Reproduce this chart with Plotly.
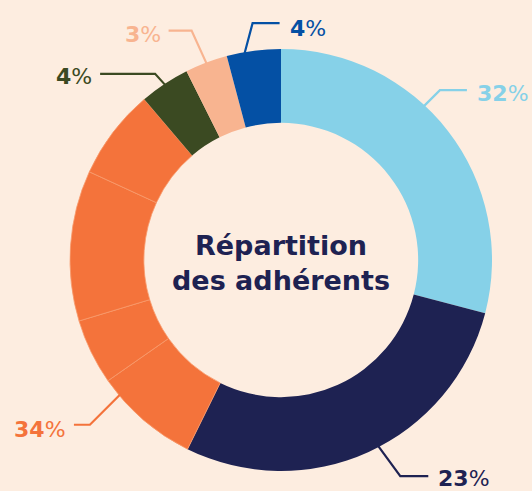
import math
import plotly.graph_objects as go

# ---- data (clockwise from 12 o'clock) ----
slice_groups = ["Bleu clair", "Marine", "Orange", "Orange", "Orange", "Orange", "Olive", "Pêche", "Bleu"]
slice_values = [29.06, 28.25, 8.0, 5.03, 11.53, 6.92, 3.83, 3.25, 4.14]
slice_colors = ["#86D1E8", "#1E2252", "#F4733B", "#F4733B", "#F4733B", "#F4733B", "#3B4A22", "#F8B490", "#0450A4"]

label_groups = ["Bleu clair", "Marine", "Orange", "Olive", "Pêche", "Bleu"]
label_texts = ["32%", "23%", "34%", "4%", "3%", "4%"]
label_colors = ["#86D1E8", "#1E2252", "#F4733B", "#3B4A22", "#F8B490", "#0450A4"]

title_text = "Répartition<br>des adhérents"

BG = "#FDEDE0"
W, H = 532, 491
CX, CY, R = 281, 260, 211
FONT = "DejaVu Sans"

def P(x, y):
    return x / W, 1 - y / H

x0, y1 = P(CX - R, CY - R)
x1, y0 = P(CX + R, CY + R)

fig = go.Figure(go.Pie(
    values=slice_values,
    labels=[f"{g} {i}" for i, g in enumerate(slice_groups)],
    sort=False,
    direction="clockwise",
    rotation=0,
    hole=0.65,
    textinfo="none",
    hoverinfo="label+value",
    marker=dict(colors=slice_colors,
                line=dict(color="#F89A6C",
                          width=[0, 0, 0.8, 0.8, 0.8, 0.8, 0, 0, 0])),
    domain=dict(x=[x0, x1], y=[y0, y1]),
    showlegend=False,
))

# angles of each group from the values
total = sum(slice_values)
group_span = {}
cum = 0
for g, v in zip(slice_groups, slice_values):
    a0 = cum / total * 360
    cum += v
    a1 = cum / total * 360
    if g in group_span:
        group_span[g] = (group_span[g][0], a1)
    else:
        group_span[g] = (a0, a1)

# leader line layout: (fraction within group, elbow offset, end offset, text side, text dy)
leader = {
    "Bleu clair": (0.41, (16, -16), (43, -16), "left", 3),
    "Marine": (0.47, (22, 30), (50, 30), "left", 2),
    "Orange": (0.21, (-30, 30), (-46, 30), "right", 5),
    "Olive": (0.5, (-10, -11), (-65, -11), "right", 3),
    "Pêche": (0.5, (-15, -33), (-38, -33), "right", 4),
    "Bleu": (0.33, (8, -30), (35, -30), "left", 5),
}

shapes = []
annotations = []
for g, txt, col in zip(label_groups, label_texts, label_colors):
    a0, a1 = group_span[g]
    frac, el, en, side, dy = leader[g]
    ang = math.radians(a0 + frac * (a1 - a0))
    sx = CX + (R - 1) * math.sin(ang)
    sy = CY - (R - 1) * math.cos(ang)
    ex, ey = sx + el[0], sy + el[1]
    fx, fy = sx + en[0], sy + en[1]
    pts = [P(sx, sy), P(ex, ey), P(fx, fy)]
    path = "M {} {} L {} {} L {} {}".format(*[c for p in pts for c in p])
    shapes.append(dict(type="path", xref="paper", yref="paper", path=path,
                       line=dict(color=col, width=2.2)))
    tx = fx + (8 if side == "left" else -6)
    ty = fy + dy
    px, py = P(tx, ty)
    num = txt.rstrip("%")
    annotations.append(dict(x=px, y=py, xref="paper", yref="paper",
                            text=f"<b>{num}</b>%",
                            showarrow=False, xanchor=side, yanchor="middle",
                            font=dict(family=FONT, size=22, color=col)))

annotations.append(dict(x=CX / W, y=1 - 263 / H, xref="paper", yref="paper",
                        text=f"<b>{title_text}</b>", showarrow=False,
                        xanchor="center", yanchor="middle",
                        font=dict(family=FONT, size=27, color="#1E2252")))

fig.update_layout(
    width=W, height=H,
    margin=dict(l=0, r=0, t=0, b=0),
    paper_bgcolor=BG, plot_bgcolor=BG,
    shapes=shapes, annotations=annotations,
)

fig.write_html("out.html", config={"displayModeBar": False},
               post_script="document.body.style.margin='0';document.body.style.background='#FDEDE0';")
